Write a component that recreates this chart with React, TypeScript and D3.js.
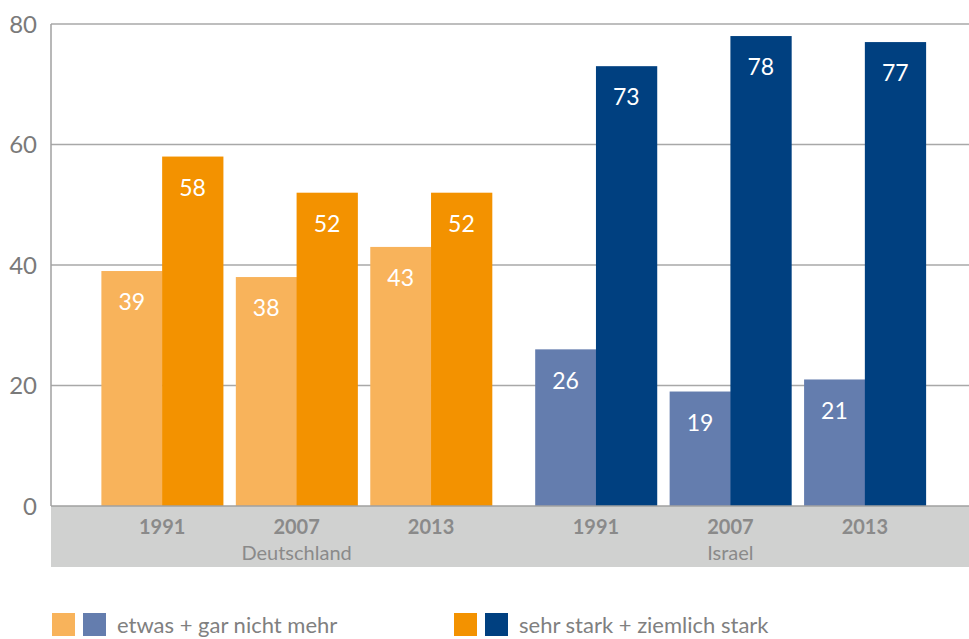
import { useEffect, useRef } from 'react';
import * as d3 from 'd3';

const countries = ['Deutschland', 'Israel'];
const years = ['1991', '2007', '2013'];
const seriesNames = ['etwas + gar nicht mehr', 'sehr stark + ziemlich stark'];
// one array per country and series, in year order
const deutschlandEtwas = [39, 38, 43];
const deutschlandStark = [58, 52, 52];
const israelEtwas = [26, 19, 21];
const israelStark = [73, 78, 77];
const yTicks = [0, 20, 40, 60, 80];

const lightColors = ['#f8b35b', '#647dae'];
const darkColors = ['#f39200', '#004080'];

const FONT = "Lato, 'Open Sans', sans-serif";

const App = () => {
  const ref = useRef<SVGSVGElement>(null);
  const width = 969;
  const height = 639;
  const margin = { top: 24, right: 0, bottom: 133, left: 51 };

  useEffect(() => {
    const svg = d3.select(ref.current);
    svg.selectAll('*').remove();

    const y0 = height - margin.bottom;
    const yScale = d3.scaleLinear().domain([0, 80]).range([y0, margin.top]);

    const x0 = d3.scaleBand().domain(countries).range([58, 969]).paddingInner(0.1).paddingOuter(0.1);
    const x1 = d3.scaleBand().domain(years).range([0, x0.bandwidth()]).paddingInner(0.096).paddingOuter(0);
    const x2 = d3.scaleBand().domain(['0', '1']).range([0, x1.bandwidth()]);

    // grid
    svg.append('g')
      .selectAll('line')
      .data(yTicks.filter((t) => t > 0))
      .join('line')
      .attr('x1', margin.left)
      .attr('x2', width)
      .attr('y1', (d) => yScale(d))
      .attr('y2', (d) => yScale(d))
      .attr('stroke', '#a8a8a8')
      .attr('stroke-width', 1.5);

    // category band
    svg.append('rect')
      .attr('x', margin.left)
      .attr('y', y0)
      .attr('width', width - margin.left)
      .attr('height', 61)
      .attr('fill', '#d0d1d0');

    // tick labels
    svg.append('g')
      .selectAll('text')
      .data(yTicks)
      .join('text')
      .attr('x', 37)
      .attr('y', (d) => yScale(d))
      .attr('dy', '0.36em')
      .attr('text-anchor', 'end')
      .attr('font-family', FONT)
      .attr('font-size', 24)
      .attr('fill', '#7a7a7a')
      .text((d) => d);

    const values: Record<string, number[][]> = {
      Deutschland: [deutschlandEtwas, deutschlandStark],
      Israel: [israelEtwas, israelStark],
    };

    const bars: { c: string; year: string; s: number; v: number; ci: number }[] = [];
    countries.forEach((c, ci) => {
      [0, 1].forEach((s) => {
        years.forEach((year, yi) => {
          bars.push({ c, year, s, v: values[c][s][yi], ci });
        });
      });
    });

    const bx = (d: { c: string; year: string; s: number }) =>
      (x0(d.c) ?? 0) + (x1(d.year) ?? 0) + (x2(String(d.s)) ?? 0);

    const g = svg.append('g');
    g.selectAll('rect')
      .data(bars)
      .join('rect')
      .attr('x', bx)
      .attr('y', (d) => yScale(d.v))
      .attr('width', x2.bandwidth() + 0.5)
      .attr('height', (d) => y0 - yScale(d.v))
      .attr('fill', (d) => (d.s === 0 ? lightColors[d.ci] : darkColors[d.ci]));

    g.selectAll('text')
      .data(bars)
      .join('text')
      .attr('x', (d) => bx(d) + x2.bandwidth() / 2)
      .attr('y', (d) => yScale(d.v) + 31)
      .attr('dy', '0.36em')
      .attr('text-anchor', 'middle')
      .attr('font-family', FONT)
      .attr('font-size', 23)
      .attr('fill', '#ffffff')
      .text((d) => d.v);

    // axis lines
    svg.append('line')
      .attr('x1', margin.left).attr('x2', margin.left)
      .attr('y1', margin.top).attr('y2', y0)
      .attr('stroke', '#a0a0a0').attr('stroke-width', 1.5);
    svg.append('line')
      .attr('x1', margin.left).attr('x2', width)
      .attr('y1', y0).attr('y2', y0)
      .attr('stroke', '#a0a0a0').attr('stroke-width', 1.5);

    // year + country labels
    countries.forEach((c) => {
      years.forEach((year) => {
        svg.append('text')
          .attr('x', (x0(c) ?? 0) + (x1(year) ?? 0) + x1.bandwidth() / 2)
          .attr('y', 534)
          .attr('text-anchor', 'middle')
          .attr('font-family', FONT)
          .attr('font-weight', 'bold')
          .attr('font-size', 20)
          .attr('fill', '#8a8a8a')
          .text(year);
      });
      svg.append('text')
        .attr('x', (x0(c) ?? 0) + x0.bandwidth() / 2)
        .attr('y', 560)
        .attr('text-anchor', 'middle')
        .attr('font-family', FONT)
        .attr('font-size', 20)
        .attr('fill', '#8a8a8a')
        .text(c);
    });

    // legend
    const legendX = [52, 454];
    seriesNames.forEach((name, i) => {
      const lg = svg.append('g').attr('transform', `translate(${legendX[i]},613)`);
      const cols = i === 0 ? lightColors : darkColors;
      cols.forEach((col, k) => {
        lg.append('rect')
          .attr('x', k * 31)
          .attr('y', 0)
          .attr('width', 23)
          .attr('height', 23)
          .attr('fill', col);
      });
      lg.append('text')
        .attr('x', 65)
        .attr('y', 12)
        .attr('dy', '0.36em')
        .attr('font-family', FONT)
        .attr('font-size', 22)
        .attr('fill', '#808080')
        .text(name);
    });
  }, []);

  return (
    <svg
      ref={ref}
      width={width}
      height={height}
      style={{ display: 'block', position: 'absolute', left: 0, top: 0 }}
    />
  );
};

export default App;
